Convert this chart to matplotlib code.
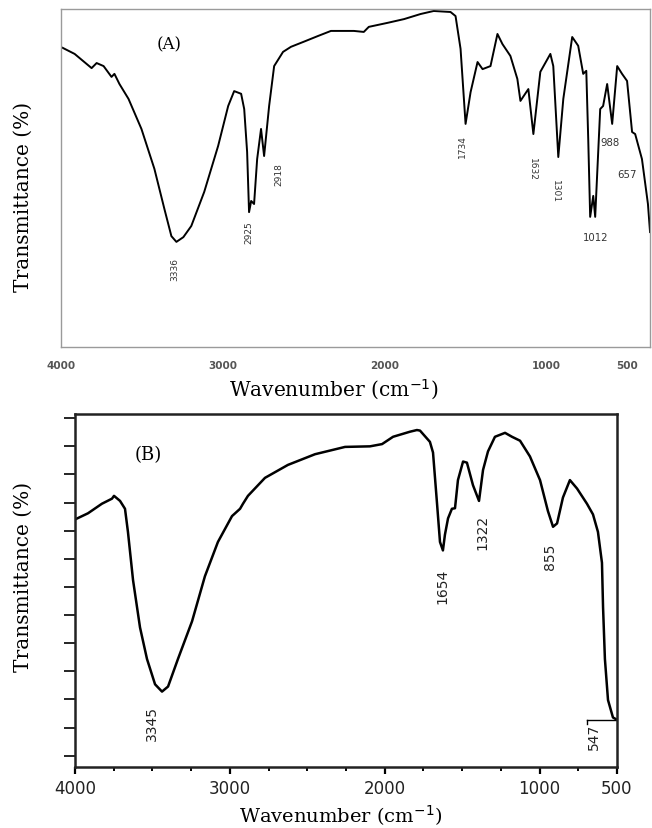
import numpy as np
import matplotlib
matplotlib.use("Agg")
import matplotlib.pyplot as plt
from matplotlib.ticker import FixedLocator, MultipleLocator, NullFormatter

# --- Spectre (A) : nombre d'onde (cm-1) et transmittance (u.a.) ---
wn_a = [3990, 3916, 3811, 3780, 3737, 3688, 3670, 3639, 3583, 3503, 3423, 3361,
        3318, 3287, 3244, 3195, 3115, 3029, 2967, 2930, 2887, 2868, 2850, 2838,
        2825, 2807, 2788, 2764, 2745, 2714, 2683, 2628, 2579, 2500, 2412, 2332,
        2190, 2129, 2098, 1981, 1880, 1778, 1697, 1593, 1562, 1531, 1500,
        1469, 1426, 1395, 1346, 1303, 1272, 1223, 1180, 1161, 1112, 1081, 1038,
        976, 958, 927, 896, 841, 804, 773, 754, 742, 730, 711, 699, 668, 650,
        625, 594, 563, 533, 502, 471, 452, 410, 373, 360]
tr_a = [88.5, 86.7, 82.5, 84.0, 83.1, 79.9, 80.8, 77.8, 73.4, 64.5, 52.7, 40.8,
        32.8, 31.1, 32.5, 35.8, 45.9, 59.5, 71.3, 75.7, 74.9, 70.4, 57.7, 39.9,
        43.2, 42.3, 55.6, 64.5, 56.5, 71.3, 83.1, 87.3, 88.8, 90.3, 92.0, 93.5,
        93.5, 93.2, 94.7, 95.9, 97.0, 98.5, 99.4, 99.1, 97.9, 88.2, 66.0,
        75.4, 84.3, 82.2, 83.1, 92.6, 89.6, 86.1, 79.3, 72.8, 76.3, 63.0, 81.4,
        86.7, 83.1, 56.2, 73.4, 91.7, 89.1, 80.8, 81.7, 61.5, 38.5, 44.7, 38.5,
        70.4, 71.3, 77.8, 66.0, 83.1, 80.8, 78.7, 63.6, 63.0, 55.6, 42.3, 34.0]

# etiquettes de pics (A) : texte, x, y, rotation
pics_a = ["3336", "2925", "2918", "1734", "1632", "1301", "1012", "988", "657"]
pics_a_x = [3300, 2838, 2653, 1519, 1087, 946, 699, 606, 502]
pics_a_y = [23.1, 34.0, 51.2, 59.5, 52.7, 46.2, 32.5, 60.7, 51.2]
pics_a_rot = [90, 90, 90, 90, -90, -90, 0, 0, 0]
ticks_a = [4000, 3000, 2000, 1000, 500]

# --- Spectre (B) ---
wn_b = [4000, 3916, 3826, 3761, 3748, 3709, 3677, 3658, 3625, 3580, 3535, 3483,
        3438, 3399, 3335, 3244, 3161, 3077, 2986, 2934, 2915, 2883, 2773, 2625,
        2450, 2256, 2095, 2017, 1946, 1837, 1792, 1772, 1708, 1688, 1662, 1643,
        1624, 1611, 1591, 1566, 1546, 1527, 1494, 1469, 1430, 1391, 1365, 1333,
        1288, 1223, 1178, 1126, 1062, 997, 946, 913, 887, 849, 804, 758, 694,
        655, 623, 597, 590, 578, 558, 526, 500]
tr_b = [42.0, 43.1, 44.8, 45.7, 46.2, 45.3, 43.9, 39.8, 31.2, 22.8, 17.2, 12.7,
        11.4, 12.3, 17.2, 23.9, 31.9, 38.0, 42.6, 43.9, 44.8, 46.2, 49.4, 51.7,
        53.6, 54.9, 55.0, 55.4, 56.7, 57.6, 57.9, 57.8, 55.8, 53.9, 44.8, 38.0,
        36.5, 39.3, 42.2, 43.9, 44.0, 49.0, 52.3, 52.1, 48.1, 45.3, 50.8, 54.1,
        56.7, 57.4, 56.7, 56.0, 53.2, 49.0, 43.5, 40.7, 41.3, 45.9, 49.0, 47.5,
        44.8, 42.9, 39.8, 34.3, 26.4, 17.2, 9.9, 6.8, 6.4]

pics_b = ["3345", "1654", "1322", "855", "547"]
pics_b_x = [3503, 1630, 1372, 933, 649]
pics_b_y = [5.9, 30.3, 39.8, 35.6, 3.5]
ticks_b = [4000, 3000, 2000, 1000, 500]

serif = "DejaVu Serif"

fig = plt.figure(figsize=(6.52, 8.29), dpi=100)

# ---------------- (A) ----------------
ax1 = fig.add_axes([0.0936, 0.5802, 0.9034, 0.4078])
ax1.plot(wn_a, tr_a, color="black", lw=1.4)
ax1.set_xlim(3990, 360)
ax1.set_ylim(0, 100)
ax1.set_xticks(ticks_a)
ax1.set_xticklabels([str(t) for t in ticks_a], fontsize=7.5, color="#555555",
                    fontweight="bold")
ax1.set_yticks([])
ax1.tick_params(axis="x", length=0, pad=9)
for s in ax1.spines.values():
    s.set_color("#9a9a9a")
    s.set_linewidth(1.0)
ax1.text(3331, 89.6, "(A)", family=serif, fontsize=12, ha="center", va="center")
for txt, x, y, r in zip(pics_a, pics_a_x, pics_a_y, pics_a_rot):
    fs = 6.5 if r != 0 else 7.3
    ax1.text(x, y, txt, fontsize=fs, rotation=r, ha="center", va="center",
             color="#333333")
fig.text(0.035, 0.762, "Transmittance (%)", family=serif, fontsize=14.5,
         rotation=90, ha="center", va="center")
fig.text(0.512, 0.530, "Wavenumber (cm$^{-1}$)", family=serif, fontsize=14.5,
         ha="center", va="center")

# ---------------- (B) ----------------
ax2 = fig.add_axes([0.115, 0.0736, 0.8313, 0.4258])
ax2.plot(wn_b, tr_b, color="black", lw=1.8)
# repere du pic a 547
ax2.plot([694, 500], [6.4, 6.4], color="black", lw=1.0)
ax2.plot([694, 694], [6.4, 5.6], color="black", lw=1.0)
ax2.set_xlim(4000, 500)
ax2.set_ylim(-2, 60.75)
ax2.set_xticks(ticks_b)
ax2.set_xticklabels([str(t) for t in ticks_b], fontsize=12, color="#222222")
ax2.xaxis.set_minor_locator(MultipleLocator(250))
ax2.yaxis.set_major_locator(FixedLocator([0, 10, 20, 30, 40, 50, 60]))
ax2.yaxis.set_minor_locator(FixedLocator([5, 15, 25, 35, 45, 55]))
ax2.yaxis.set_major_formatter(NullFormatter())
ax2.tick_params(axis="x", which="major", direction="out", length=5, width=1.6,
                pad=4)
ax2.tick_params(axis="x", which="minor", direction="out", length=3, width=1.4)
ax2.tick_params(axis="y", which="both", direction="out", length=8, width=1.2)
for s in ax2.spines.values():
    s.set_color("#222222")
    s.set_linewidth(1.8)
ax2.text(3529, 53.6, "(B)", family=serif, fontsize=13, ha="center", va="center")
for txt, x, y in zip(pics_b, pics_b_x, pics_b_y):
    ax2.text(x, y, txt, fontsize=10, rotation=90, ha="center", va="center",
             color="#222222")
fig.text(0.035, 0.304, "Transmittance (%)", family=serif, fontsize=14.5,
         rotation=90, ha="center", va="center")
fig.text(0.523, 0.016, "Wavenumber (cm$^{-1}$)", family=serif, fontsize=14,
         ha="center", va="center")

fig.savefig("out.png", dpi=100)
